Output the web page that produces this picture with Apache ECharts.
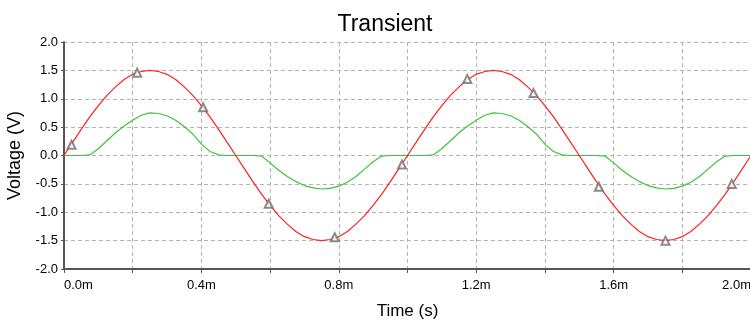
<!DOCTYPE html>
<html>
<head>
<meta charset="utf-8">
<script src="https://cdn.jsdelivr.net/npm/echarts@6/dist/echarts.min.js"></script>
<style>
html,body{margin:0;padding:0;background:#fff;}
#chart{width:750px;height:320px;}
</style>
</head>
<body>
<div id="chart"></div>
<script>
// Time in milliseconds
var timeMs = [
  0.000,0.025,0.050,0.075,0.100,0.125,0.150,0.175,0.200,0.225,
  0.250,0.275,0.300,0.325,0.350,0.375,0.400,0.425,0.450,0.475,
  0.500,0.525,0.550,0.575,0.600,0.625,0.650,0.675,0.700,0.725,
  0.750,0.775,0.800,0.825,0.850,0.875,0.900,0.925,0.950,0.975,
  1.000,1.025,1.050,1.075,1.100,1.125,1.150,1.175,1.200,1.225,
  1.250,1.275,1.300,1.325,1.350,1.375,1.400,1.425,1.450,1.475,
  1.500,1.525,1.550,1.575,1.600,1.625,1.650,1.675,1.700,1.725,
  1.750,1.775,1.800,1.825,1.850,1.875,1.900,1.925,1.950,1.975,
  2.000
];
// Red trace (input)
var redVolts = [
  0.00,0.23,0.46,0.68,0.88,1.06,1.21,1.34,1.43,1.48,
  1.50,1.48,1.43,1.34,1.21,1.06,0.88,0.68,0.46,0.23,
  0.00,-0.23,-0.46,-0.68,-0.88,-1.06,-1.21,-1.34,-1.43,-1.48,
  -1.50,-1.48,-1.43,-1.34,-1.21,-1.06,-0.88,-0.68,-0.46,-0.23,
  0.00,0.23,0.46,0.68,0.88,1.06,1.21,1.34,1.43,1.48,
  1.50,1.48,1.43,1.34,1.21,1.06,0.88,0.68,0.46,0.23,
  0.00,-0.23,-0.46,-0.68,-0.88,-1.06,-1.21,-1.34,-1.43,-1.48,
  -1.50,-1.48,-1.43,-1.34,-1.21,-1.06,-0.88,-0.68,-0.46,-0.23,
  0.00
];
// Green trace (output)
var greenVolts = [
  0.00,0.00,0.00,0.01,0.12,0.26,0.40,0.52,0.62,0.71,
  0.75,0.74,0.70,0.62,0.51,0.38,0.20,0.07,0.01,0.00,
  0.00,0.00,0.00,-0.01,-0.13,-0.26,-0.37,-0.46,-0.53,-0.57,
  -0.59,-0.58,-0.54,-0.47,-0.37,-0.24,-0.11,-0.01,0.00,0.00,
  0.00,0.00,0.00,0.01,0.12,0.26,0.40,0.52,0.62,0.71,
  0.75,0.74,0.70,0.62,0.51,0.38,0.20,0.07,0.01,0.00,
  0.00,0.00,0.00,-0.01,-0.13,-0.26,-0.37,-0.46,-0.53,-0.57,
  -0.59,-0.58,-0.54,-0.47,-0.37,-0.24,-0.11,-0.01,0.00,0.00,
  0.00
];
// Triangle markers on the red trace
var markerTimes = [0.022,0.213,0.405,0.596,0.788,0.984,1.174,1.367,1.557,1.751,1.944];
var markerVolts = [0.19,1.46,0.85,-0.85,-1.44,-0.16,1.35,1.10,-0.55,-1.50,-0.50];

var xTickValues = [0.0,0.4,0.8,1.2,1.6,2.0];
var xTickLabels = ['0.0m','0.4m','0.8m','1.2m','1.6m','2.0m'];
var yTickLabels = ['-2.0','-1.5','-1.0','-0.5','0.0','0.5','1.0','1.5','2.0'];

var titleText = 'Transient';
var xName = 'Time (s)';
var yName = 'Voltage (V)';

function pairs(xs, ys){ return xs.map(function(x,i){ return [x, ys[i]]; }); }

var FONT = '"Liberation Sans", Arial, sans-serif';
var chart = echarts.init(document.getElementById('chart'), null, {renderer:'canvas'});
chart.setOption({
  animation:false,
  backgroundColor:'#fff',
  title:{
    text:titleText, left:380, top:8, textAlign:'center',
    textStyle:{fontFamily:FONT, fontSize:23, fontWeight:'normal', color:'#000'}
  },
  grid:{left:64, right:-1, top:42, bottom:51, containLabel:false, outerBoundsMode:'none'},
  xAxis:{
    type:'value', min:0, max:2.0, interval:0.2,
    name:xName, nameLocation:'middle', nameGap:34,
    nameTextStyle:{fontFamily:FONT, fontSize:17, color:'#000'},
    axisLine:{show:true, onZero:false, lineStyle:{color:'#555', width:2}},
    axisTick:{show:true, length:4, lineStyle:{color:'#555'}},
    axisLabel:{
      fontFamily:FONT, fontSize:13, color:'#000', margin:10,
      showMinLabel:true, showMaxLabel:true, alignMinLabel:'left', alignMaxLabel:'right',
      hideOverlap:false,
      formatter:function(v){
        for (var i=0;i<xTickValues.length;i++){ if (Math.abs(v-xTickValues[i])<1e-6) return xTickLabels[i]; }
        return '';
      }
    },
    splitLine:{show:true, lineStyle:{color:'#b4b4b4', type:[4,3], width:1}}
  },
  yAxis:{
    type:'value', min:-2.0, max:2.0, interval:0.5,
    name:yName, nameLocation:'middle', nameGap:40, nameRotate:90,
    nameTextStyle:{fontFamily:FONT, fontSize:18, color:'#000'},
    axisLine:{show:true, onZero:false, lineStyle:{color:'#555', width:2}},
    axisTick:{show:true, length:3, lineStyle:{color:'#555'}},
    axisLabel:{
      fontFamily:FONT, fontSize:13, color:'#000', margin:6,
      formatter:function(v){ return yTickLabels[Math.round((v+2)/0.5)]; }
    },
    splitLine:{show:true, lineStyle:{color:'#b4b4b4', type:[4,3], width:1}}
  },
  series:[
    {
      type:'line', data:pairs(timeMs, greenVolts), showSymbol:false, symbol:'none',
      lineStyle:{color:'#3cc43c', width:1.2}, z:2
    },
    {
      type:'line', data:pairs(timeMs, redVolts), showSymbol:false, symbol:'none',
      lineStyle:{color:'#ff2020', width:1.2}, z:3
    },
    {
      type:'scatter', data:pairs(markerTimes, markerVolts),
      symbol:'emptyTriangle', symbolSize:8,
      itemStyle:{color:'#6e6e6e', borderWidth:1}, z:4
    }
  ]
});
</script>
</body>
</html>
